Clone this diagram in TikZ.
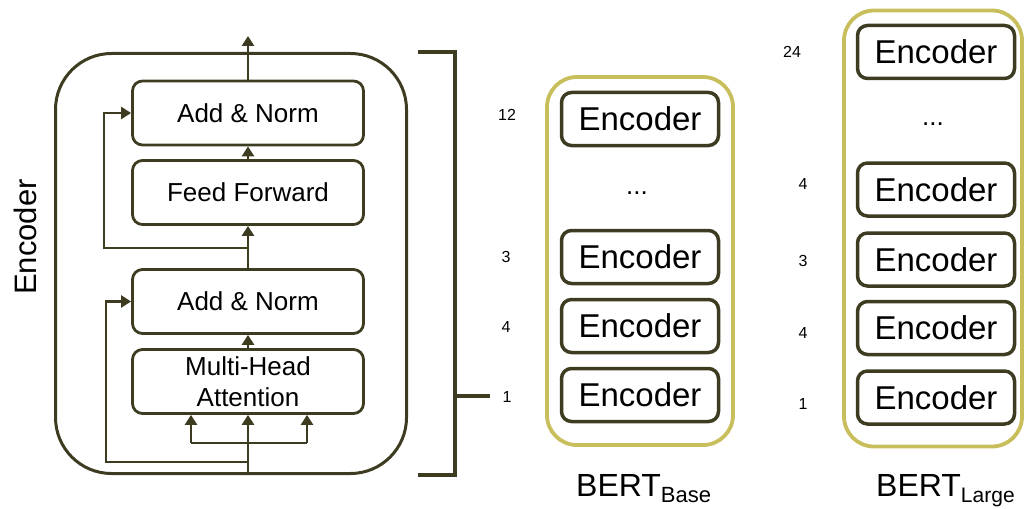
\documentclass[tikz,border=0pt]{standalone}
\usepackage{fontspec}
\setmainfont{Liberation Sans}
\usetikzlibrary{arrows.meta,calc}
\definecolor{dk}{HTML}{3D3B20}
\definecolor{ol}{HTML}{C9BE5C}
\begin{document}
\begin{tikzpicture}[x=1pt,y=-1pt,
  blk/.style={draw=dk,line width=2.8pt,rounded corners=10pt,minimum width=231pt,minimum height=64pt,inner sep=0pt,font=\fontsize{26}{31}\selectfont,align=center},
  enc/.style={draw=dk,line width=3.5pt,rounded corners=10pt,minimum width=157pt,minimum height=53pt,inner sep=0pt,font=\fontsize{33}{38}\selectfont},
  stack/.style={draw=ol,line width=3.8pt,rounded corners=30pt,inner sep=0pt},
  num/.style={font=\fontsize{16}{19}\selectfont,inner sep=0pt},
  dots/.style={font=\fontsize{26}{30}\selectfont,inner sep=0pt},
  wire/.style={draw=dk,line width=2.8pt},
  arr/.style={wire,-{Triangle[width=12pt,length=10pt]}},
  bertlbl/.style={inner sep=0pt,anchor=base west}
]
\useasboundingbox (0,0) rectangle (1024,508);

% ---- Encoder detail ----
\node[draw=dk,line width=3pt,rounded corners=56pt,minimum width=351pt,minimum height=420pt,inner sep=0pt] (outer) at (231,263.5) {};
\node[rotate=90,font=\fontsize{31}{36}\selectfont,inner sep=0pt] (enclbl) at (25,237) {Encoder};

\node[blk] (an1) at (248,113) {Add \& Norm};
\node[blk] (ff)  at (248,192.5) {Feed Forward};
\node[blk] (an2) at (248,301.5) {Add \& Norm};
\node[blk] (mha) at (248,381.5) {Multi-Head\\Attention};

\coordinate (out) at (248,36);
\coordinate (in) at (248,475);
\coordinate (r1) at (248,248);
\coordinate (r2) at (248,462);
\coordinate (br) at (248,443);

\draw[arr] (an1.north) -- (out);
\draw[arr] (ff.north) -- (an1.south);
\draw[arr] (an2.north) -- (ff.south);
\draw[arr] (mha.north) -- (an2.south);
\draw[arr] (r1) -- (104,248) |- (an1.west);
\draw[arr] (r2) -- (106,462) |- (an2.west);
\draw[arr] (in) -- (mha.south);
\draw[wire] ($(br)+(-57,0)$) -- ($(br)+(59,0)$);
\draw[arr] ($(br)+(-57,0)$) -- ($(mha.south)+(-57,0)$);
\draw[arr] ($(br)+(59,0)$) -- ($(mha.south)+(59,0)$);

% ---- bracket ----
\coordinate (bt) at (418,52);
\coordinate (bb) at (418,475);
\coordinate (bs) at (490,396);
\draw[wire,line width=3.5pt] (bt) -- (455,52) -- (455,475) -- (bb);
\draw[wire,line width=3.5pt] (455,396) -- (bs);

% ---- BERT Base ----
\node[stack,minimum width=186pt,minimum height=368pt] (base) at (640,261) {};
\node[enc] (b12) at (640,119) {Encoder};
\node[dots] (bdots) at (637,193) {...};
\node[enc] (b3) at (640,257) {Encoder};
\node[enc] (b4) at (640,326) {Encoder};
\node[enc] (b1) at (640,395) {Encoder};
\node[num] (nb12) at (507,115) {12};
\node[num] (nb3) at (506,257) {3};
\node[num] (nb4) at (506,327) {4};
\node[num] (nb1) at (507,397) {1};
\node[bertlbl] (bbl) at (576,496) {\fontsize{32}{36}\selectfont BERT\raisebox{-6pt}{\fontsize{22}{26}\selectfont Base}};

% ---- BERT Large ----
\node[stack,minimum width=178pt,minimum height=436pt] (large) at (933,228.5) {};
\node[enc] (l24) at (936,52) {Encoder};
\node[dots] (ldots) at (933,124) {...};
\node[enc] (l4a) at (936,189.5) {Encoder};
\node[enc] (l3) at (936,259.5) {Encoder};
\node[enc] (l4) at (936,328) {Encoder};
\node[enc] (l1) at (936,397.5) {Encoder};
\node[num] (nl24) at (792,52) {24};
\node[num] (nl4a) at (803,184) {4};
\node[num] (nl3) at (803,261) {3};
\node[num] (nl4) at (803,333) {4};
\node[num] (nl1) at (803,404) {1};
\node[bertlbl] (lbl) at (876,496) {\fontsize{32}{36}\selectfont BERT\raisebox{-6pt}{\fontsize{21}{25}\selectfont Large}};
\end{tikzpicture}
\end{document}
